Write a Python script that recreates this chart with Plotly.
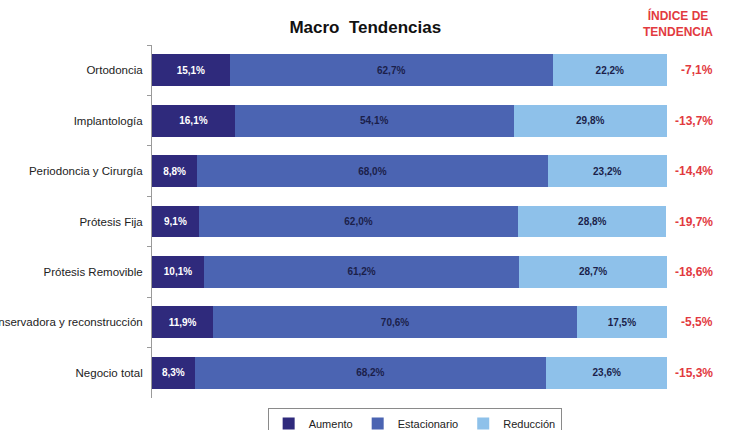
import plotly.graph_objects as go

categorias = ["Ortodoncia", "Implantología", "Periodoncia y Cirurgía", "Prótesis Fija",
              "Prótesis Removible", "Odontología Conservadora y reconstrucción", "Negocio total"]
aumento = [15.1, 16.1, 8.8, 9.1, 10.1, 11.9, 8.3]
estacionario = [62.7, 54.1, 68.0, 62.0, 61.2, 70.6, 68.2]
reduccion = [22.2, 29.8, 23.2, 28.8, 28.7, 17.5, 23.6]
indice = [-7.1, -13.7, -14.4, -19.7, -18.6, -5.5, -15.3]


def pct(v):
    return f"{v:.1f}%".replace(".", ",")


series = [
    ("Aumento", aumento, "#2F2A7C", "white"),
    ("Estacionario", estacionario, "#4B64B2", "#1B1F4A"),
    ("Reducción", reduccion, "#8EC1EA", "#1B1F4A"),
]

fig = go.Figure()
for name, vals, color, tcolor in series:
    fig.add_trace(go.Bar(
        y=categorias, x=vals, name=name, orientation="h",
        marker=dict(color=color, line=dict(width=0)),
        text=[pct(v) for v in vals], textposition="inside",
        insidetextanchor="middle",
        textfont=dict(family="Liberation Sans, Arial", size=10, color=tcolor, weight="bold"),
    ))

# índice de tendencia column
for cat, v in zip(categorias, indice):
    fig.add_annotation(x=1.093, y=cat, xref="paper", yref="y", text=f"<b>{pct(v)}</b>",
                       showarrow=False, font=dict(family="Liberation Sans, Arial", size=12, color="#E23A3F"))
fig.add_annotation(x=1.093, y=1.06, xref="paper", yref="paper", yanchor="middle",
                   text="<b>ÍNDICE DE<br>TENDENCIA</b>", showarrow=False,
                   font=dict(family="Liberation Sans, Arial", size=12, color="#E23A3F"))

fig.update_layout(
    barmode="stack", bargap=0.37,
    width=747, height=430,
    margin=dict(l=152, r=80, t=45, b=32, autoexpand=False),
    paper_bgcolor="white", plot_bgcolor="white",
    title=dict(text="<b>Macro  Tendencias</b>", x=0.489, xanchor="center", y=0.937, yanchor="middle",
               font=dict(family="Liberation Sans, Arial", size=17, color="#111111")),
    font=dict(family="Liberation Sans, Arial", size=11.5, color="#222222"),
    xaxis=dict(range=[0, 100], visible=False),
    yaxis=dict(autorange="reversed", showline=True, linecolor="#9a9a9a", linewidth=1,
               ticks="outside", ticklen=4, tickcolor="#9a9a9a", tickson="boundaries",
               ticklabelstandoff=6, showgrid=False, automargin=False),
    legend=dict(orientation="h", traceorder="normal", x=0.51, xanchor="center", y=-0.028, yanchor="top",
                bordercolor="#8a8a8a", borderwidth=1, font=dict(size=11),
                itemwidth=30, tracegroupgap=0),
    showlegend=True,
)

fig.write_html("out.html", config={"displayModeBar": False},
               post_script="document.body.style.margin='0';")
